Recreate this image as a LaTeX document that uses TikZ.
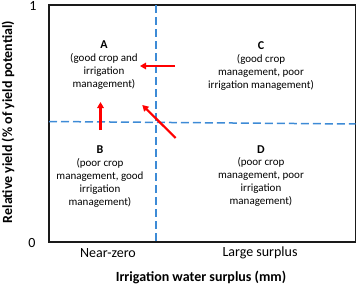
\documentclass[tikz,border=0pt]{standalone}
\usepackage{fontspec}
\setmainfont{Carlito}
\usetikzlibrary{arrows.meta, positioning}
\definecolor{cgrid}{HTML}{3D8BD6}
\definecolor{cshift}{HTML}{FF0000}
\definecolor{cdark}{HTML}{1A1A1A}

\begin{document}
\begin{tikzpicture}[
    x=1pt, y=-1pt,
    quad/.style={align=center, font=\fontsize{11}{13}\selectfont, inner sep=0pt},
    quadtitle/.style={font=\fontsize{12}{13}\selectfont\bfseries, inner sep=0pt},
    axislab/.style={font=\fontsize{14}{16}\selectfont\bfseries, inner sep=0pt},
    ticklab/.style={font=\fontsize{14}{16}\selectfont, inner sep=0pt},
    split/.style={draw=cgrid, line width=1.5pt, dash pattern=on 8pt off 4pt},
    shiftarrow/.style={draw=cshift, line width=2.2pt, -{Triangle[length=6pt,width=6.5pt]}}
]
\useasboundingbox (0,0) rectangle (357,284);

% frame and quadrant split
\coordinate (tl) at (49,5);
\coordinate (br) at (355.5,242);
\draw[cdark, line width=1.2pt] (tl) rectangle (br);
\coordinate (vt) at (156,5);
\coordinate (vb) at (156,242);
\coordinate (hl) at (49,121.5);
\coordinate (hr) at (355.5,124);
\draw[split] (vt) -- (vb);
\draw[split] (hl) -- (hr);

% quadrants
\foreach \q/\x/\y/\txt in {
    A/104/71/{(good crop and\\irrigation\\management)},
    C/261/72/{(good crop\\management, poor\\irrigation management)},
    B/100/182.5/{(poor crop\\management, good\\irrigation\\management)},
    D/261/182/{(poor crop\\management, poor\\irrigation\\management)}}{
  \node[quad] (b\q) at (\x,\y) {\txt};
  \node[quadtitle, above=4pt of b\q] (t\q) {\q};
}

% shifts towards A
\coordinate (hs) at (175,66);
\coordinate (he) at (140,66);
\coordinate (vs) at (100.5,130);
\coordinate (ve) at (100.5,102);
\coordinate (ds) at (175.7,138);
\coordinate (de) at (142.3,105);
\foreach \a/\b in {hs/he, vs/ve, ds/de}
  \draw[shiftarrow] (\a) -- (\b);

% axes
\node[ticklab] (ymax) at (33,6) {1};
\node[ticklab] (ymin) at (32,243) {0};
\node[ticklab] (xlo) at (108,253) {Near-zero};
\node[ticklab] (xhi) at (260,253) {Large surplus};
\node[axislab] (xlab) at (201,277) {Irrigation water surplus (mm)};
\node[axislab, rotate=90] (ylab) at (8,122) {Relative yield (\% of yield potential)};
\end{tikzpicture}
\end{document}
